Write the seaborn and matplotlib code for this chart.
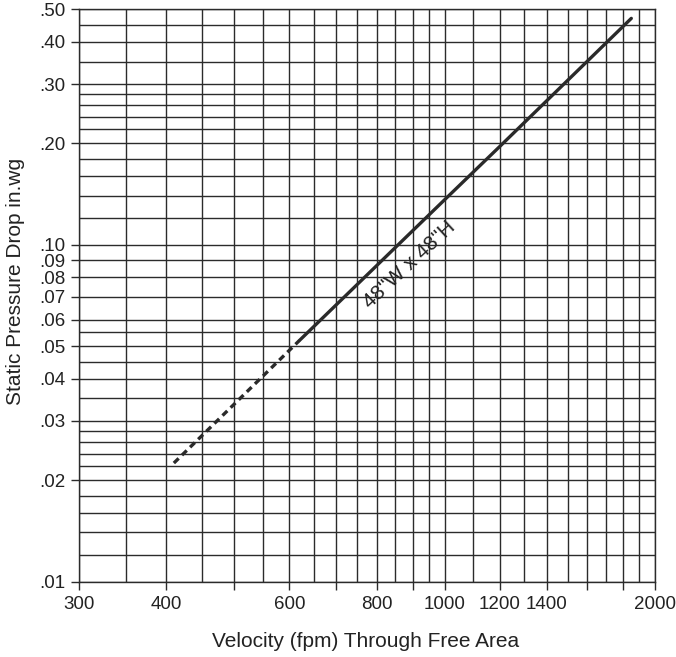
import numpy as np
import pandas as pd
import seaborn as sns
import matplotlib
matplotlib.use("Agg")
import matplotlib.pyplot as plt
from matplotlib.ticker import FixedLocator, FixedFormatter, NullLocator

# readings from the chart (velocity fpm vs static pressure drop in.wg)
velocity_dashed = [410, 620]
drop_dashed = [0.0225, 0.0520]
velocity_solid = [620, 1000, 1200, 1850]
drop_solid = [0.0520, 0.136, 0.196, 0.470]

series_label = '48"W x 48"H'

# grid lines
x_grid = [300, 350, 400, 450, 500, 550, 600, 650, 700, 750, 800, 850, 900, 950,
          1000, 1100, 1200, 1300, 1400, 1500, 1600, 1700, 1800, 1900, 2000]
y_grid = [0.01, 0.012, 0.014, 0.016, 0.018, 0.02, 0.022, 0.024, 0.026, 0.028,
          0.03, 0.035, 0.04, 0.045, 0.05, 0.055, 0.06, 0.07, 0.08, 0.09, 0.10,
          0.12, 0.14, 0.16, 0.18, 0.20, 0.22, 0.24, 0.26, 0.28, 0.30, 0.35,
          0.40, 0.45, 0.50]

x_ticks = [300, 400, 500, 600, 700, 800, 900, 1000, 1200, 1400, 1600, 1800, 2000]
x_tick_labels = ["300", "400", "", "600", "", "800", "", "1000", "1200", "1400", "", "", "2000"]
y_ticks = [0.01, 0.02, 0.03, 0.04, 0.05, 0.06, 0.07, 0.08, 0.09, 0.10, 0.20, 0.30, 0.40, 0.50]
y_tick_labels = [".01", ".02", ".03", ".04", ".05", ".06", ".07", ".08", ".09", ".10",
                 ".20", ".30", ".40", ".50"]

sns.set_style("white")
plt.rcParams['font.family'] = ['Liberation Sans', 'DejaVu Sans']

fig = plt.figure(figsize=(6.76, 6.57), dpi=100)
ax = fig.add_axes([0.1169, 0.1146, 0.852, 0.8712])

ax.set_xscale("log")
ax.set_yscale("log")
ax.set_xlim(300, 2000)
ax.set_ylim(0.01, 0.50)

grid_color = "#2b2b2b"
for gx in x_grid:
    ax.axvline(gx, color=grid_color, lw=1.0, zorder=1)
for gy in y_grid:
    ax.axhline(gy, color=grid_color, lw=1.0, zorder=1)

dashed = pd.DataFrame({"velocity": velocity_dashed, "drop": drop_dashed})
solid = pd.DataFrame({"velocity": velocity_solid, "drop": drop_solid})
sns.lineplot(data=dashed, x="velocity", y="drop", ax=ax, color="#2a2a2a",
             lw=2.4, zorder=3)
ax.lines[-1].set_dashes([2.0, 1.4])
sns.lineplot(data=solid, x="velocity", y="drop", ax=ax, color="#2a2a2a",
             lw=2.4, zorder=3)

ax.text(890, 0.087, series_label, rotation=43, rotation_mode="anchor",
        ha="center", va="center", fontsize=15, color="#222222", zorder=4)

ax.xaxis.set_major_locator(FixedLocator(x_ticks))
ax.xaxis.set_major_formatter(FixedFormatter(x_tick_labels))
ax.xaxis.set_minor_locator(NullLocator())
ax.yaxis.set_major_locator(FixedLocator(y_ticks))
ax.yaxis.set_major_formatter(FixedFormatter(y_tick_labels))
ax.yaxis.set_minor_locator(NullLocator())

ax.tick_params(axis="both", which="major", direction="out", length=6, width=1.0,
               color=grid_color, labelsize=13.5, labelcolor="#222222", pad=4,
               bottom=True, left=True)

for side in ax.spines.values():
    side.set_color(grid_color)
    side.set_linewidth(1.0)

ax.set_xlabel("Velocity (fpm) Through Free Area", fontsize=15, color="#222222")
ax.set_ylabel("Static Pressure Drop in.wg", fontsize=15, color="#222222")
ax.xaxis.set_label_coords(0.497, -0.088)
ax.yaxis.set_label_coords(-0.093, 0.524)

fig.savefig("out.png", dpi=100)
